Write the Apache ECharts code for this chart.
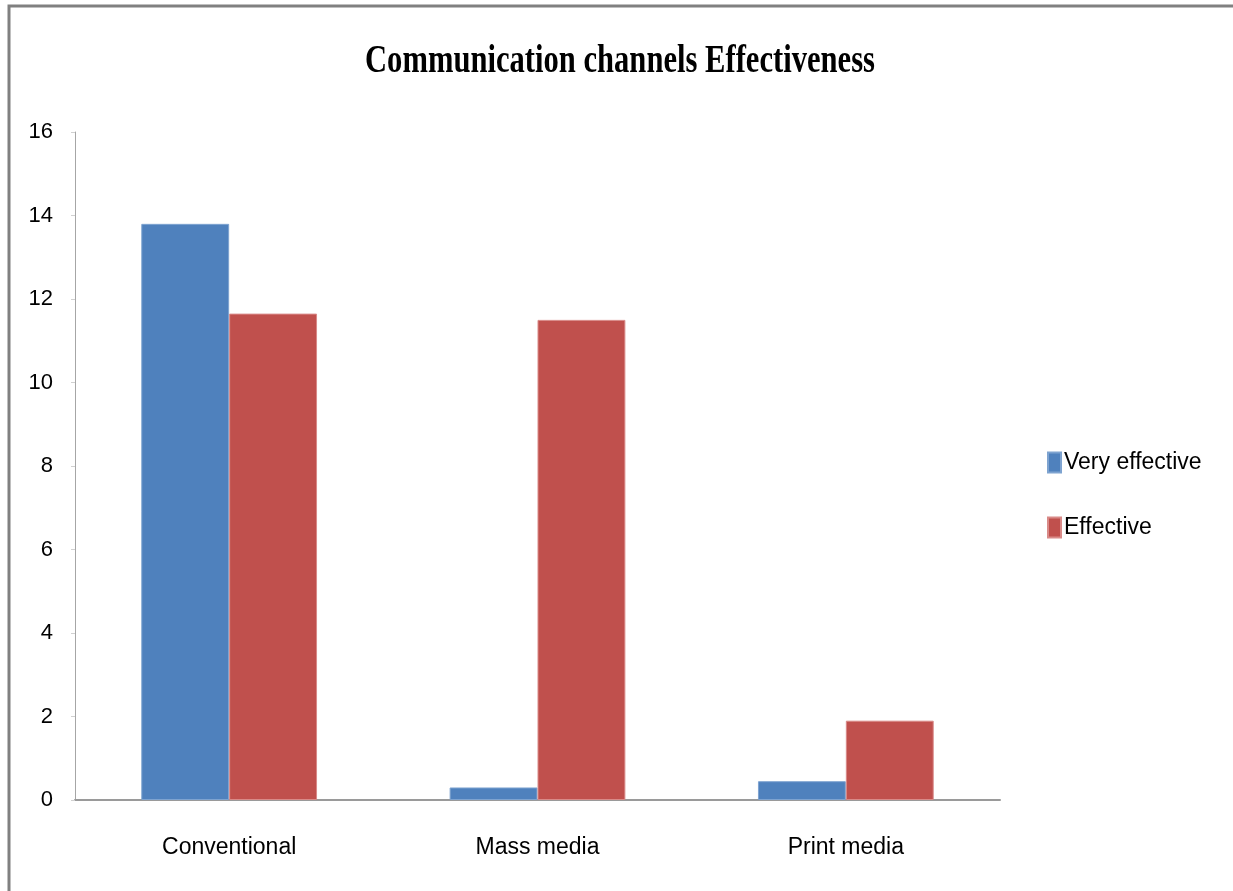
<!DOCTYPE html>
<html>
<head>
<meta charset="utf-8">
<title>Communication channels Effectiveness</title>
<script src="https://cdn.jsdelivr.net/npm/echarts@6/dist/echarts.min.js"></script>
<style>
  html, body { margin: 0; padding: 0; background: #fff; }
  #chart { width: 1233px; height: 891px; }
</style>
</head>
<body>
<div id="chart"></div>
<script>
// Channel categories and responses per rating
const categories = ['Conventional', 'Mass media', 'Print media'];
const veryEffective = [13.8, 0.3, 0.45];
const effective = [11.65, 11.5, 1.9];
const yTicks = { min: 0, max: 16, interval: 2 };
const chartTitle = 'Communication channels Effectiveness';

const chart = echarts.init(document.getElementById('chart'));

const labelFont = "'Liberation Sans', Arial, sans-serif";

chart.setOption({
  backgroundColor: '#ffffff',
  animation: false,
  legend: {
    orient: 'vertical',
    left: 1042,
    top: 446,
    itemWidth: 13,
    itemHeight: 20,
    itemGap: 42,
    icon: 'rect',
    textStyle: { fontFamily: labelFont, fontSize: 23, color: '#000', padding: [0, 0, 0, -2] },
    data: ['Very effective', 'Effective']
  },
  grid: { left: 75, right: 233, top: 132, bottom: 91, containLabel: false },
  xAxis: {
    type: 'category',
    data: categories,
    axisLine: { lineStyle: { color: '#9a9a9a', width: 2 } },
    axisTick: { show: false },
    axisLabel: { fontFamily: labelFont, fontSize: 23, color: '#000', margin: 36 }
  },
  yAxis: {
    type: 'value',
    min: yTicks.min,
    max: yTicks.max,
    interval: yTicks.interval,
    axisLine: { show: true, lineStyle: { color: '#a6a6a6', width: 1 } },
    axisTick: { show: true, length: 4, lineStyle: { color: '#d0d0d0' } },
    splitLine: { show: false },
    axisLabel: { fontFamily: labelFont, fontSize: 22, color: '#000', margin: 22 }
  },
  series: [
    {
      name: 'Very effective',
      type: 'bar',
      data: veryEffective,
      barGap: '0%',
      barCategoryGap: '43%',
      itemStyle: { color: '#4F81BD', borderColor: '#7ea3d0', borderWidth: 1 }
    },
    {
      name: 'Effective',
      type: 'bar',
      data: effective,
      itemStyle: { color: '#C0504D', borderColor: '#d98a88', borderWidth: 1 }
    }
  ],
  graphic: [
    {
      // outer chart frame (top and left edges)
      type: 'polyline',
      silent: true,
      shape: { points: [[9, 900], [9, 6], [1240, 6]] },
      style: { stroke: '#808080', lineWidth: 3, fill: null }
    },
    {
      // tall, condensed serif heading
      type: 'text',
      silent: true,
      x: 620,
      y: 62,
      scaleX: 1.02,
      scaleY: 1.3,
      style: {
        text: chartTitle,
        align: 'center',
        verticalAlign: 'middle',
        fontFamily: "'Liberation Serif', 'Times New Roman', serif",
        fontWeight: 'bold',
        fontSize: 30,
        fill: '#000'
      }
    }
  ]
});
</script>
</body>
</html>
